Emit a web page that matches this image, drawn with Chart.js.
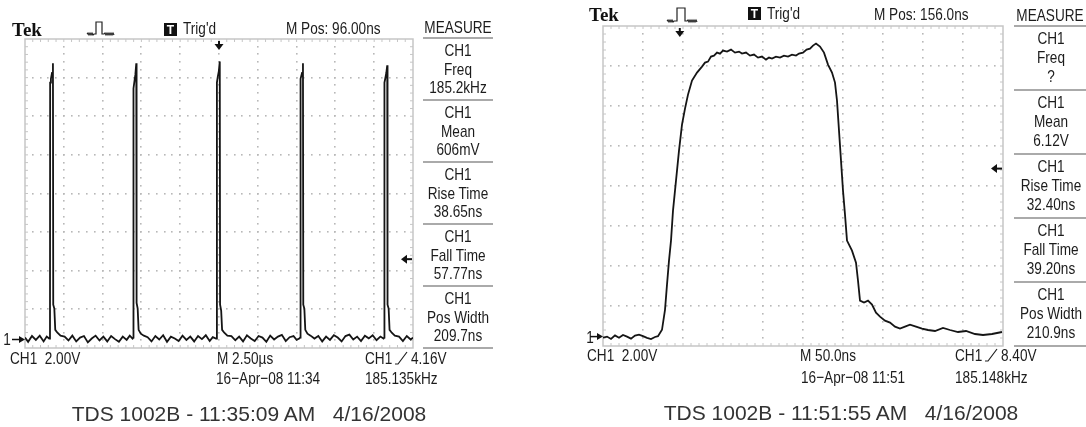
<!DOCTYPE html>
<html><head><meta charset="utf-8">
<script src="https://cdn.jsdelivr.net/npm/chart.js@4.4.0/dist/chart.umd.min.js"></script>
<style>
html,body{margin:0;padding:0;background:#fff;}
#root{position:relative;width:1086px;height:427px;overflow:hidden;background:#fff;}
canvas{position:absolute;}
.t{position:absolute;white-space:pre;font-family:"Liberation Sans",Arial,sans-serif;color:#1c1c1c;font-size:17px;line-height:17px;height:17px;}
.c{transform-origin:50% 50%;transform:translate(-50%,-50%) scaleX(0.8);}
.l{transform-origin:0 50%;transform:translateY(-50%) scaleX(0.8);}
.tek{position:absolute;white-space:pre;font-family:"Liberation Serif","Times New Roman",serif;font-weight:bold;font-size:19px;line-height:19px;height:19px;color:#111;transform:translateY(-50%);}
.cap{position:absolute;white-space:pre;font-family:"Liberation Sans",Arial,sans-serif;font-size:21px;line-height:21px;height:21px;color:#333;transform:translate(-50%,-50%);}
svg{position:absolute;left:0;top:0;}
</style></head><body><div id="root">
<canvas id="cL" width="420" height="317" style="left:0px;top:35px"></canvas>
<canvas id="cR" width="430" height="328" style="left:580px;top:22px"></canvas>
<svg width="1086" height="427" viewBox="0 0 1086 427">
  <polyline fill="none" stroke="#222" stroke-width="1.2" points="87,34 88,33 89,35 90,33 91,35 92,33 93,35 94,34 96,34 96,22 102,22 102,34 104,34 105,33 106,35 107,33 108,35 109,33 110,35 111,33 112,35 113,33 114,35"/>
  <polyline fill="none" stroke="#222" stroke-width="1.2" points="667,21 668,20 669,22 670,20 671,22 672,20 673,22 674,21 677,21 677,8 685,8 685,21 687,21 688,20 689,22 690,20 691,22 692,20 693,22 694,20 695,22 696,20 697,22"/>
  <rect x="164" y="23" width="13" height="13" fill="#111"/>
  <text x="170.5" y="34" fill="#fff" font-family="Liberation Sans, Arial, sans-serif" font-weight="bold" font-size="12" text-anchor="middle">T</text>
  <rect x="748" y="7" width="13" height="13" fill="#111"/>
  <text x="754.5" y="18" fill="#fff" font-family="Liberation Sans, Arial, sans-serif" font-weight="bold" font-size="12" text-anchor="middle">T</text>
  <polyline fill="none" stroke="#222" stroke-width="1.2" points="395,364 398,364 407,352"/>
  <polyline fill="none" stroke="#222" stroke-width="1.2" points="985,361 988,361 997,349"/>
  <g stroke="#aaa" stroke-width="2">
    <line x1="423" y1="38" x2="493" y2="38"/><line x1="423" y1="100" x2="493" y2="100"/><line x1="423" y1="162" x2="493" y2="162"/>
    <line x1="423" y1="224" x2="493" y2="224"/><line x1="423" y1="286" x2="493" y2="286"/><line x1="423" y1="348" x2="493" y2="348"/>
    <line x1="1014" y1="26" x2="1086" y2="26"/><line x1="1014" y1="90" x2="1086" y2="90"/><line x1="1014" y1="154" x2="1086" y2="154"/>
    <line x1="1014" y1="218" x2="1086" y2="218"/><line x1="1014" y1="282" x2="1086" y2="282"/><line x1="1014" y1="346" x2="1086" y2="346"/>
  </g>
</svg>
</div>
<script>
// ---------------- DATA ----------------
// Left capture: time in microseconds, CH1 voltage in volts (2.00 V/div, 2.50 us/div)
const leftTimes = [
 0,0.2,0.45,0.7,0.95,1.2,1.4,1.56,
 1.61,1.62,1.67,1.74,1.80,1.82,1.89,1.95,2.09,2.29,
 2.55,2.8,3.05,3.3,3.55,3.8,4.05,4.3,4.55,4.8,5.05,5.3,5.55,5.8,6.05,6.3,6.55,6.75,6.93,
 6.98,6.99,7.04,7.11,7.17,7.19,7.26,7.32,7.46,7.66,
 7.9,8.15,8.4,8.65,8.9,9.15,9.4,9.65,9.9,10.15,10.4,10.65,10.9,11.15,11.4,11.65,11.9,12.1,12.31,
 12.36,12.37,12.42,12.49,12.55,12.57,12.64,12.70,12.84,13.04,
 13.3,13.55,13.8,14.05,14.3,14.55,14.8,15.05,15.3,15.55,15.8,16.05,16.3,16.55,16.8,17.05,17.3,17.5,17.67,
 17.72,17.73,17.78,17.85,17.91,17.93,18.00,18.06,18.20,18.40,
 18.65,18.9,19.15,19.4,19.65,19.9,20.15,20.4,20.65,20.9,21.15,21.4,21.65,21.9,22.15,22.4,22.65,22.9,23.1,
 23.15,23.16,23.21,23.28,23.34,23.36,23.43,23.49,23.63,23.83,
 24.1,24.35,24.6,24.85,25
];
const leftVolts = [
 0.1,-0.12,0.18,-0.02,0.2,-0.1,0.15,0.05,
 0.1,13.3,13.5,13.8,14.3,1.8,1.6,0.5,0.35,0.2,
 0.15,-0.05,0.2,-0.1,0.1,0.18,-0.15,0.05,0.2,-0.05,0.15,-0.1,0.18,0.02,-0.12,0.15,-0.02,0.2,0.05,
 0.1,13.0,13.3,13.7,14.3,1.9,1.6,0.5,0.3,0.2,
 0.12,-0.1,0.18,0.0,0.22,-0.12,0.15,0.05,-0.08,0.2,-0.02,0.15,-0.1,0.18,0.02,0.22,-0.08,0.12,0.05,
 0.1,13.3,13.6,13.9,14.4,1.8,1.5,0.5,0.35,0.2,
 0.18,-0.04,0.15,-0.1,0.22,0.05,-0.08,0.18,0.1,-0.12,0.2,0.0,0.15,0.24,-0.08,0.12,0.18,-0.02,0.05,
 0.1,13.2,13.5,13.8,14.3,1.8,1.6,0.5,0.3,0.2,
 0.05,0.18,-0.1,0.15,-0.02,0.22,0.1,-0.1,0.18,0.25,0.0,0.15,-0.08,0.2,0.06,0.22,-0.04,0.15,0.05,
 0.1,13.3,13.5,13.8,14.2,1.8,1.6,0.5,0.35,0.2,
 0.15,-0.08,0.18,0.0,0.1
];
// Right capture: time in nanoseconds, CH1 voltage in volts (2.00 V/div, 50.0 ns/div)
const rightTimes = [
 0,5,10,15,20,25,30,35,40,45,50,55,60,65,68.75,
 73.75,77.5,80,82.5,85,87.5,91.25,95,98.75,102.5,
 106.25,111.25,117.5,123.75,127.5,131.25,135,138.75,142.5,146.25,
 150,155,160,165,170,173.75,178.75,183.75,188.75,193.75,
 198.75,203.75,207.5,211.25,216.25,221.25,226.25,231.25,236.25,241.25,
 245,250,254.5,258.75,262.5,266.25,271.25,276.25,281.25,286.25,
 290,292.5,295,297.5,300,302.5,305,311.25,316.25,318.75,
 321.25,326.25,331.25,336.25,341.25,346.25,352.5,358.75,365,371.25,
 377.5,383.75,391.25,398.75,406.25,415,425,433.75,443.75,453.75,
 465,475,486.25,498.75
];
const rightVolts = [
 -0.05,0.0,-0.12,0.06,-0.06,0.08,0.0,-0.1,0.05,0.1,0.02,-0.06,-0.12,-0.02,0.02,
 0.34,1.34,2.6,3.8,4.8,6.3,7.8,9.3,10.6,11.4,
 12.1,12.8,13.2,13.5,13.7,13.75,14.0,14.05,14.2,14.15,
 14.3,14.25,14.35,14.2,14.25,14.15,14.2,14.05,14.1,13.95,
 14.0,13.85,13.95,13.9,14.0,13.95,14.05,14.0,14.1,14.05,
 14.15,14.2,14.35,14.4,14.55,14.65,14.5,14.2,13.6,13.2,
 12.7,11.8,10.3,8.8,7.3,6.1,4.8,4.3,3.7,2.8,
 1.8,1.7,1.8,1.6,1.2,1.0,0.8,0.7,0.5,0.4,
 0.5,0.6,0.5,0.4,0.33,0.28,0.43,0.33,0.23,0.28,
 0.13,0.08,0.13,0.23
];
const leftMeasures = [["CH1","Freq","185.2kHz"],["CH1","Mean","606mV"],["CH1","Rise Time","38.65ns"],["CH1","Fall Time","57.77ns"],["CH1","Pos Width","209.7ns"]];
const rightMeasures = [["CH1","Freq","?"],["CH1","Mean","6.12V"],["CH1","Rise Time","32.40ns"],["CH1","Fall Time","39.20ns"],["CH1","Pos Width","210.9ns"]];
const leftTrigLevel = 4.16, rightTrigLevel = 8.40;   // volts
const leftTrigTime = 12.5, rightTrigTime = 96;        // trigger marker position

// ---------------- TEXT ----------------
const root = document.getElementById('root');
function txt(s, x, y, cls){ const d=document.createElement('div'); d.className=cls; d.textContent=s; d.style.left=x+'px'; d.style.top=y+'px'; root.appendChild(d); return d; }
function sc(s,cx,cy){ txt(s,cx,cy,'t c'); }
function sl(s,x,cy){ txt(s,x,cy,'t l'); }
// left header
txt('Tek',12,29,'tek'); sl("Trig'd",183,28); sl('M Pos: 96.00ns',286,28); sc('MEASURE',458,27);
// right header
txt('Tek',589,14,'tek'); sl("Trig'd",767,13); sl('M Pos: 156.0ns',874,14); sc('MEASURE',1050,15);
// measure panels
const lLines=[38,100,162,224,286];
leftMeasures.forEach((m,i)=>{ const L=lLines[i]; sc(m[0],458,L+12); sc(m[1],458,L+31); sc(m[2],458,L+49); });
const rLines=[26,90,154,218,282];
rightMeasures.forEach((m,i)=>{ const L=rLines[i]; sc(m[0],1051,L+12); sc(m[1],1051,L+31); sc(m[2],1051,L+50); });
// ground markers
sc('1',7,339); sc('1',590,337);
// bottom status lines
sl('CH1  2.00V',10,358); sl('M 2.50\u00b5s',217,358); sl('16\u2212Apr\u221208 11:34',216,378); sl('CH1',365,358); sl('4.16V',411,358); sl('185.135kHz',365,378);
sl('CH1  2.00V',587,355); sl('M 50.0ns',800,355); sl('16\u2212Apr\u221208 11:51',801,377); sl('CH1',955,355); sl('8.40V',1001,355); sl('185.148kHz',955,377);
txt('TDS 1002B - 11:35:09 AM   4/16/2008',249,413,'cap');
txt('TDS 1002B - 11:51:55 AM   4/16/2008',841,412,'cap');

// ---------------- CHARTS ----------------
const scopePlugin = {
  id:'scope',
  beforeDatasetsDraw(chart, args, opts){
    const {ctx, chartArea:{left,right,top,bottom}} = chart;
    const w=(right-left)/10, h=(bottom-top)/8;
    ctx.save();
    ctx.fillStyle='#b8b8b8';
    for(let i=1;i<10;i++){ const x=left+i*w; for(let k=1;k<40;k++){ const y=top+k*h/5; ctx.fillRect(Math.round(x)-1, Math.round(y)-1, 1.6, 1.6);} }
    for(let j=1;j<8;j++){ const y=top+j*h; for(let k=1;k<50;k++){ const x=left+k*w/5; ctx.fillRect(Math.round(x)-1, Math.round(y)-1, 1.6, 1.6);} }
    ctx.strokeStyle='#c6c6c6'; ctx.lineWidth=1.5;
    ctx.strokeRect(left,top,right-left,bottom-top);
    ctx.beginPath();
    for(let k=1;k<50;k++){ const x=left+k*w/5; ctx.moveTo(x,top); ctx.lineTo(x,top+3); ctx.moveTo(x,bottom); ctx.lineTo(x,bottom-3); }
    for(let k=1;k<40;k++){ const y=top+k*h/5; ctx.moveTo(left,y); ctx.lineTo(left+3,y); ctx.moveTo(right,y); ctx.lineTo(right-3,y); }
    ctx.lineWidth=1; ctx.stroke();
    ctx.restore();
  },
  afterDatasetsDraw(chart, args, opts){
    const {ctx, chartArea:{left,right,top}, scales:{x,y}} = chart;
    ctx.save(); ctx.fillStyle='#111'; ctx.strokeStyle='#111';
    const tx=x.getPixelForValue(opts.trigT);
    ctx.fillRect(tx-1, top+2, 2, 4);
    ctx.beginPath(); ctx.moveTo(tx-4.5, top+5); ctx.lineTo(tx+4.5, top+5); ctx.lineTo(tx, top+11); ctx.closePath(); ctx.fill();
    const ly=y.getPixelForValue(opts.trigV);
    ctx.fillRect(right-7, ly-1, 6, 2);
    ctx.beginPath(); ctx.moveTo(right-6, ly-4.5); ctx.lineTo(right-6, ly+4.5); ctx.lineTo(right-12, ly); ctx.closePath(); ctx.fill();
    const gy=y.getPixelForValue(0);
    ctx.fillRect(left-13, gy-0.75, 9, 1.5);
    ctx.beginPath(); ctx.moveTo(left-6, gy-3.5); ctx.lineTo(left-6, gy+3.5); ctx.lineTo(left, gy); ctx.closePath(); ctx.fill();
    ctx.restore();
  }
};
function makeChart(id, times, volts, xmax, ymin, pad, trigT, trigV){
  return new Chart(document.getElementById(id), {
    type:'scatter',
    data:{datasets:[{data: times.map((t,i)=>({x:t,y:volts[i]})), showLine:true, borderColor:'#151515', borderWidth:1.8, pointRadius:0, tension:0, fill:false}]},
    options:{responsive:false, animation:false, devicePixelRatio:1, events:[],
      layout:{padding:pad},
      plugins:{legend:{display:false}, tooltip:{enabled:false}, scope:{trigT, trigV}},
      scales:{x:{type:'linear',min:0,max:xmax,display:false}, y:{type:'linear',min:ymin,max:ymin+16,display:false}}
    },
    plugins:[scopePlugin]
  });
}
makeChart('cL', leftTimes, leftVolts, 25, -0.44, {left:25,top:4,right:7,bottom:4}, leftTrigTime, leftTrigLevel);
makeChart('cR', rightTimes, rightVolts, 500, -0.47, {left:23,top:4,right:7,bottom:4}, rightTrigTime, rightTrigLevel);
</script>
</body></html>
